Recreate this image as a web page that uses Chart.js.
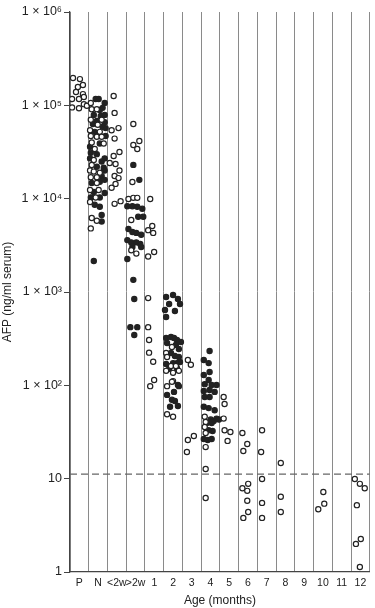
<!DOCTYPE html>
<html>
<head>
<meta charset="utf-8">
<script src="https://cdn.jsdelivr.net/npm/chart.js@4/dist/chart.umd.min.js"></script>
<style>
  html, body { margin: 0; padding: 0; background: #fff; }
</style>
</head>
<body>
<canvas id="afp" width="375" height="608"></canvas>
<script>
const categories = ["P", "N", "<2w", ">2w", "1", "2", "3", "4", "5", "6", "7", "8", "9", "10", "11", "12"];

const yTicks = [1, 10, 100, 1000, 10000, 100000, 1000000];
const yTickLabels = ["1", "10", "1 × 10²", "1 × 10³", "1 × 10⁴", "1 × 10⁵", "1 × 10⁶"];

const cutoff = 11.2;

// [position within the columns, AFP ng/ml]
const openPts = [
  // P
  [0.16, 196000], [0.53, 191000], [0.69, 165000], [0.42, 157000], [0.32, 139000], [0.69, 132000],
  [0.11, 117000], [0.48, 117000], [0.74, 123000], [0.11, 95000], [0.48, 93000], [0.74, 103000], [0.9, 99000],
  // N
  [1.11, 106000], [1.16, 91000], [1.43, 91000], [1.11, 70000], [1.69, 70000], [1.48, 62000], [1.07, 54000],
  [1.59, 52000], [1.11, 47000], [1.43, 46000], [1.69, 46000], [1.16, 40000], [1.80, 39000], [1.32, 34000],
  [1.27, 26000], [1.16, 23000], [1.07, 20000], [1.27, 19500], [1.59, 19000], [1.11, 17000], [1.43, 17000],
  [1.43, 14700], [1.07, 12400], [1.53, 12400], [1.37, 10300], [1.07, 9200], [1.16, 6200], [1.43, 5800], [1.11, 4800],
  // <2w
  [2.33, 126000], [2.38, 83000], [2.22, 54000], [2.59, 57000], [2.38, 44000], [2.64, 31600], [2.33, 28700],
  [2.12, 24100], [2.43, 23500], [2.64, 20000], [2.38, 17500], [2.59, 16600], [2.43, 14400], [2.22, 13100],
  [2.38, 8800], [2.70, 9400],
  // >2w
  [3.38, 63000], [3.70, 41500], [3.38, 37600], [3.59, 34000], [3.33, 15100], [3.12, 9930], [3.38, 10200],
  [3.59, 10200], [3.27, 5900], [3.27, 2800], [3.54, 2580],
  // 1
  [4.28, 9930], [4.39, 5100], [4.17, 4600], [4.44, 4300], [4.49, 2680], [4.17, 2400], [4.17, 860],
  [4.17, 420], [4.22, 306], [4.22, 224], [4.44, 179], [4.49, 114], [4.28, 98],
  // 2
  [5.44, 258], [5.13, 222], [5.18, 201], [5.39, 161], [5.65, 161], [5.13, 143], [5.50, 136], [5.81, 143],
  [5.50, 111], [5.18, 98], [5.44, 109], [5.18, 49], [5.50, 46],
  // 3
  [6.29, 187], [6.45, 166], [6.29, 26], [6.61, 28.7], [6.24, 19.3],
  // 4
  [7.19, 46], [7.24, 40.5], [7.19, 35.8], [7.24, 30.8], [7.24, 21.8], [7.24, 12.7], [7.24, 6.2],
  // 5
  [8.20, 75], [8.25, 63], [8.20, 44], [8.25, 33], [8.56, 31.6], [8.41, 25.4],
  // 6
  [9.20, 30.9], [9.46, 23.5], [9.25, 19.8], [9.51, 8.8], [9.20, 7.9], [9.46, 7.4], [9.46, 5.8], [9.51, 4.4], [9.25, 3.8],
  // 7
  [10.25, 33], [10.20, 19.3], [10.25, 9.9], [10.25, 5.5], [10.25, 3.8],
  // 8
  [11.25, 14.7], [11.25, 6.4], [11.25, 4.4],
  // 10
  [13.52, 7.2], [13.57, 5.4], [13.25, 4.7],
  // 12
  [15.20, 9.9], [15.47, 8.8], [15.73, 7.9], [15.31, 5.2], [15.26, 2.0], [15.52, 2.26], [15.47, 1.13]
];

const filledPts = [
  // N
  [1.37, 117000], [1.53, 117000], [1.85, 106000], [1.59, 89000], [1.74, 94000], [1.27, 79000], [1.64, 77000],
  [1.85, 79000], [1.43, 68000], [1.85, 66000], [1.22, 63000], [1.74, 59000], [1.90, 57000], [1.32, 52000],
  [1.90, 47000], [1.59, 39000], [1.07, 36000], [1.11, 31000], [1.43, 30000], [1.07, 27000], [1.69, 25000],
  [1.85, 27000], [1.43, 22000], [1.80, 21500], [1.85, 20000], [1.69, 17500], [1.85, 15900], [1.16, 14700],
  [1.59, 15200], [1.27, 11800], [1.85, 11500], [1.11, 10300], [1.59, 10300], [1.32, 8600], [1.59, 8200],
  [1.69, 6700], [1.69, 5700], [1.27, 2150],
  // >2w
  [3.38, 23000], [3.70, 15900], [3.06, 8300], [3.33, 8300], [3.59, 8200], [3.86, 7800], [3.64, 6400],
  [3.91, 6400], [3.12, 4730], [3.33, 4400], [3.54, 4300], [3.80, 4100], [3.06, 3600], [3.27, 3400],
  [3.54, 3400], [3.75, 3270], [3.33, 3040], [3.80, 3040], [3.06, 2260], [3.38, 1350], [3.43, 840],
  [3.22, 420], [3.59, 420], [3.43, 346],
  // 2
  [5.13, 884], [5.50, 929], [5.76, 841], [5.29, 744], [5.87, 744], [5.07, 642], [5.60, 626], [5.13, 540],
  [5.13, 322], [5.39, 330], [5.55, 322], [5.71, 306], [5.92, 291], [5.18, 284], [5.65, 271], [5.81, 245],
  [5.39, 222], [5.60, 206], [5.81, 201], [5.87, 178], [5.13, 169], [5.50, 173], [5.71, 173], [5.29, 150],
  [5.71, 153], [5.76, 101], [5.18, 79], [5.55, 85], [5.81, 98], [5.44, 70], [5.60, 68], [5.34, 59], [5.76, 60],
  // 4
  [7.45, 233], [7.14, 187], [7.40, 173], [7.45, 139], [7.14, 129], [7.40, 114], [7.19, 103], [7.56, 101],
  [7.82, 101], [7.14, 87], [7.45, 89], [7.72, 85], [7.19, 75], [7.45, 75], [7.14, 59], [7.40, 57],
  [7.72, 54], [7.51, 43], [7.67, 41.5], [7.82, 44], [7.95, 43], [7.30, 39.5], [7.56, 39.5], [7.61, 32.4],
  [7.14, 26.6], [7.35, 26], [7.56, 26.6], [7.40, 33]
];

const font = "'Liberation Sans', Arial, sans-serif";
const ink = "#222";

const toXY = pts => pts.map(p => ({ x: p[0], y: p[1] }));

new Chart(document.getElementById("afp"), {
  type: "scatter",
  data: {
    datasets: [
      {
        data: toXY(openPts),
        pointStyle: "circle",
        pointRadius: 2.6,
        borderWidth: 1.2,
        borderColor: ink,
        backgroundColor: "#fff"
      },
      {
        data: toXY(filledPts),
        pointStyle: "circle",
        pointRadius: 2.6,
        borderWidth: 1.2,
        borderColor: ink,
        backgroundColor: ink
      },
      {
        type: "line",
        data: [{ x: 0, y: cutoff }, { x: categories.length, y: cutoff }],
        borderColor: "#666",
        borderWidth: 1.2,
        borderDash: [7, 4],
        pointRadius: 0
      }
    ]
  },
  options: {
    responsive: false,
    animation: false,
    layout: { padding: { top: 12, right: 2, left: 0, bottom: 0 } },
    plugins: { legend: { display: false }, tooltip: { enabled: false } },
    scales: {
      x: {
        type: "linear",
        min: 0,
        max: categories.length,
        afterBuildTicks: scale => {
          const t = [];
          for (let i = 0; i <= categories.length * 2; i++) t.push({ value: i / 2 });
          scale.ticks = t;
        },
        afterFit: scale => { scale.height = 36; },
        ticks: {
          autoSkip: false,
          maxRotation: 0,
          padding: 5,
          color: ink,
          font: { family: font, size: 10.5 },
          callback: v => (v % 1 ? categories[Math.floor(v)] : "")
        },
        grid: {
          drawTicks: false,
          color: c => (c.tick && c.tick.value % 1 === 0 ? "#8a8a8a" : "rgba(0,0,0,0)"),
          lineWidth: 1
        },
        border: { display: true, color: "#444", width: 1.2 },
        title: {
          display: true,
          text: "Age (months)",
          color: ink,
          font: { family: font, size: 12 },
          padding: { top: 0, bottom: 0 }
        }
      },
      y: {
        type: "logarithmic",
        min: 1,
        max: 1000000,
        afterBuildTicks: scale => { scale.ticks = yTicks.map(v => ({ value: v })); },
        afterFit: scale => { scale.width = 70; },
        ticks: {
          padding: 2,
          color: ink,
          font: { family: font, size: 12.5 },
          callback: v => yTickLabels[yTicks.indexOf(v)]
        },
        grid: { drawOnChartArea: false, drawTicks: true, tickLength: 6, color: "#444" },
        border: { display: true, color: "#444", width: 1.2 },
        title: {
          display: true,
          text: "AFP (ng/ml serum)",
          color: ink,
          font: { family: font, size: 12 },
          padding: 0
        }
      }
    }
  }
});
</script>
</body>
</html>
